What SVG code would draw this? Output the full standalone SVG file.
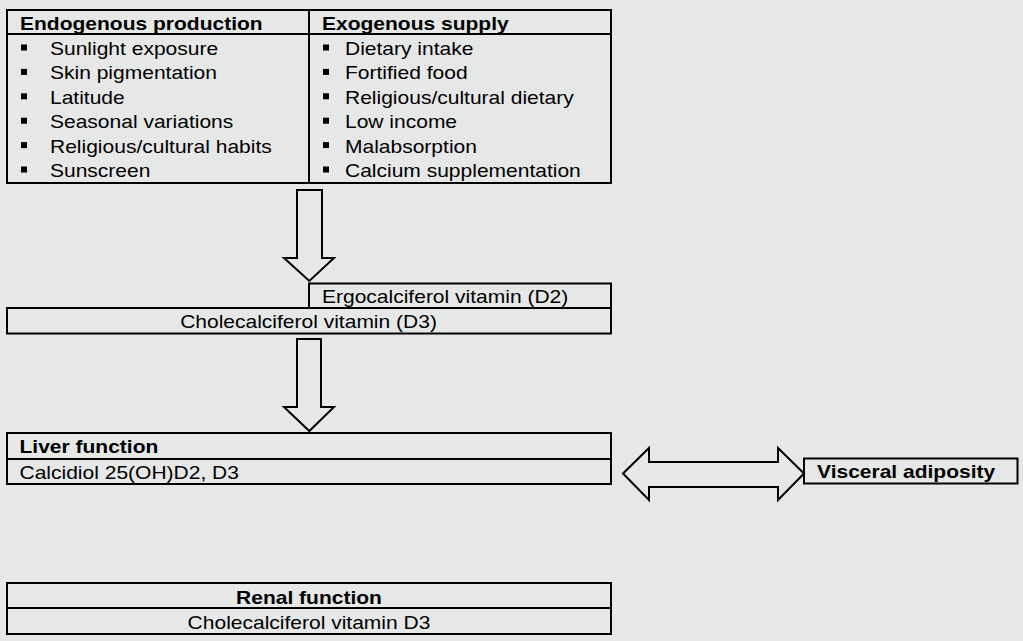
<svg xmlns="http://www.w3.org/2000/svg" width="1023" height="641" viewBox="0 0 1023 641">
<style>
.box{fill:none;stroke:#000;stroke-width:2}
.ln{stroke:#000;stroke-width:2;fill:none}
.arr{fill:#e6e7e7;stroke:#000;stroke-width:2;stroke-linejoin:miter}
text{font-family:"Liberation Sans",Arial,Helvetica,sans-serif;font-size:18.6px;fill:#000}
.b{font-weight:bold}
.m{text-anchor:middle}
.bul{fill:#000}
</style>
<rect x="0" y="0" width="1023" height="641" fill="#e6e7e7"/>

<g id="sources">
<rect class="box" x="7" y="10" width="604" height="173"/>
<line class="ln" x1="7" y1="34" x2="611" y2="34"/>
<line class="ln" x1="309" y1="10" x2="309" y2="183"/>
<text class="b" transform="matrix(1.13 0 0 1 20 29.5)">Endogenous production</text>
<text class="b" transform="matrix(1.13 0 0 1 322 29.5)">Exogenous supply</text>
<g class="bul">
<rect x="21" y="44.5" width="6" height="6"/>
<rect x="21" y="68.9" width="6" height="6"/>
<rect x="21" y="93.3" width="6" height="6"/>
<rect x="21" y="117.7" width="6" height="6"/>
<rect x="21" y="142.1" width="6" height="6"/>
<rect x="21" y="166.5" width="6" height="6"/>
<rect x="323" y="44.5" width="6" height="6"/>
<rect x="323" y="68.9" width="6" height="6"/>
<rect x="323" y="93.3" width="6" height="6"/>
<rect x="323" y="117.7" width="6" height="6"/>
<rect x="323" y="142.1" width="6" height="6"/>
<rect x="323" y="166.5" width="6" height="6"/>
</g>
<text transform="matrix(1.13 0 0 1 50 55)">Sunlight exposure</text>
<text transform="matrix(1.13 0 0 1 50 79.4)">Skin pigmentation</text>
<text transform="matrix(1.13 0 0 1 50 103.8)">Latitude</text>
<text transform="matrix(1.13 0 0 1 50 128.2)">Seasonal variations</text>
<text transform="matrix(1.13 0 0 1 50 152.6)">Religious/cultural habits</text>
<text transform="matrix(1.13 0 0 1 50 177)">Sunscreen</text>
<text transform="matrix(1.13 0 0 1 345 55)">Dietary intake</text>
<text transform="matrix(1.13 0 0 1 345 79.4)">Fortified food</text>
<text transform="matrix(1.13 0 0 1 345 103.8)">Religious/cultural dietary</text>
<text transform="matrix(1.13 0 0 1 345 128.2)">Low income</text>
<text transform="matrix(1.13 0 0 1 345 152.6)">Malabsorption</text>
<text transform="matrix(1.13 0 0 1 345 177)">Calcium supplementation</text>
</g>

<g id="connectors">
<polygon class="arr" points="297,190 322,190 322,258 334,258 309.3,281 284,258 297,258"/>
<polygon class="arr" points="297,339 321,339 321,407 334,407 309.3,431 284,407 297,407"/>
<polygon class="arr" points="623,473.5 649,448 649,462 778,462 778,448 804,473.5 778,500 778,487 649,487 649,500"/>
</g>

<g id="d2">
<rect class="box" x="309" y="283.5" width="302" height="24.5"/>
<text transform="matrix(1.13 0 0 1 322 302.5)">Ergocalciferol vitamin (D2)</text>
</g>

<g id="d3">
<rect class="box" x="7" y="308" width="604" height="25.5"/>
<text class="m" transform="matrix(1.13 0 0 1 308.5 327.5)">Cholecalciferol vitamin (D3)</text>
</g>

<g id="liver">
<rect class="box" x="7" y="433" width="604" height="51"/>
<line class="ln" x1="7" y1="459" x2="611" y2="459"/>
<text class="b" transform="matrix(1.13 0 0 1 19.5 453)">Liver function</text>
<text transform="matrix(1.13 0 0 1 19.5 479)">Calcidiol 25(OH)D2, D3</text>
</g>

<g id="visceral">
<rect class="box" x="804" y="458.5" width="213.5" height="25"/>
<text class="b" transform="matrix(1.13 0 0 1 817 477.5)">Visceral adiposity</text>
</g>

<g id="renal">
<rect class="box" x="7" y="583" width="604" height="51"/>
<line class="ln" x1="7" y1="608" x2="611" y2="608"/>
<text class="b m" transform="matrix(1.13 0 0 1 309 604)">Renal function</text>
<text class="m" transform="matrix(1.13 0 0 1 309 629)">Cholecalciferol vitamin D3</text>
</g>
</svg>
